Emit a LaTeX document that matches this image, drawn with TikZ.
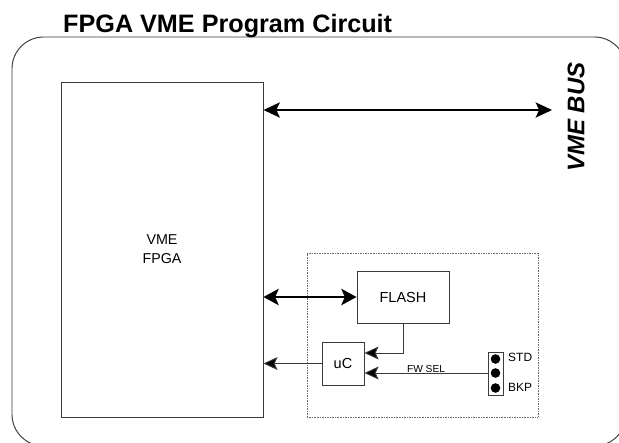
\documentclass[tikz,border=0pt]{standalone}
\usepackage{fontspec}
\setmainfont{Liberation Sans}
\usetikzlibrary{arrows.meta}
\definecolor{vmeline}{HTML}{3A3A3A}
\definecolor{vmedot}{HTML}{6B6B6B}

\begin{document}
\begin{tikzpicture}[
  x=0.03cm, y=-0.03cm,
  every node/.style={font=\fontsize{10}{12}\selectfont},
  blockbox/.style={rectangle, draw=vmeline, line width=0.8pt, align=center, inner sep=0pt},
  pinlabel/.style={anchor=west, inner sep=0pt, font=\fontsize{10.2}{12}\selectfont},
  sigarrow/.style={-{Stealth[length=12pt,width=11pt,inset=2.5pt,fill=black]}, line width=0.8pt, draw=vmeline},
  busarrow/.style={{Stealth[length=14pt,width=13pt,inset=3pt]}-{Stealth[length=14pt,width=13pt,inset=3pt]}, line width=1.3pt},
  datarrow/.style={{Stealth[length=13pt,width=14pt,inset=3pt]}-{Stealth[length=13pt,width=14pt,inset=3pt]}, line width=1.8pt},
]
\useasboundingbox (0,0) rectangle (619,442);
\clip (0,0) rectangle (619,442);

% outer frame and title
\draw[vmeline, line width=0.8pt, rounded corners=27pt] (12,37) rectangle (626,446);
\node[anchor=base west, inner sep=0pt, font=\bfseries\fontsize{21.5}{25}\selectfont] (title) at (63,32) {FPGA VME Program Circuit};

% main blocks
\node[blockbox, minimum width=6.06cm, minimum height=10.05cm, font=\fontsize{12.2}{16.2}\selectfont] (fpga) at (162,249.5) {VME\\FPGA};
\node[rotate=90, font=\bfseries\itshape\fontsize{20.5}{24}\selectfont] (buslabel) at (576,117) {VME BUS};
\coordinate (busend) at (552,110);

% programming section
\node[draw=vmedot, line width=0.6pt, dash pattern=on 0.8pt off 0.6pt, minimum width=6.93cm, minimum height=4.92cm] (prog) at (422.5,335) {};
\node[blockbox, minimum width=2.76cm, minimum height=1.56cm, font=\fontsize{12.4}{15}\selectfont] (flash) at (403,297) {FLASH};
\node[blockbox, minimum width=1.26cm, minimum height=1.29cm, font=\fontsize{12.4}{15}\selectfont] (uc) at (343,363.5) {uC};

% jumper
\node[blockbox, minimum width=0.45cm, minimum height=1.29cm] (jmp) at (495.5,373.5) {};
\foreach \i/\yy in {1/359,2/373,3/388}
  \node[circle, fill=black, inner sep=0pt, minimum size=8.2pt] (pin\i) at (495.5,\yy) {};
\node[pinlabel] (std) at (508,357) {STD};
\node[pinlabel] (bkp) at (508,387) {BKP};

% connections
\draw[busarrow] (fpga.east |- busend) -- (busend);
\draw[datarrow] (fpga.east |- flash.west) -- (flash.west);
\draw[sigarrow] (uc.west) -- (fpga.east |- uc.west);
\draw[sigarrow] (flash.south) |- ([yshift=0.315cm]uc.east);
\draw[sigarrow] (jmp.west |- pin2) -- (uc.east |- pin2)
  node[pos=0.5, above, inner sep=0.3pt, font=\fontsize{8.7}{10}\selectfont] (fwsel) {FW SEL};
\end{tikzpicture}
\end{document}
